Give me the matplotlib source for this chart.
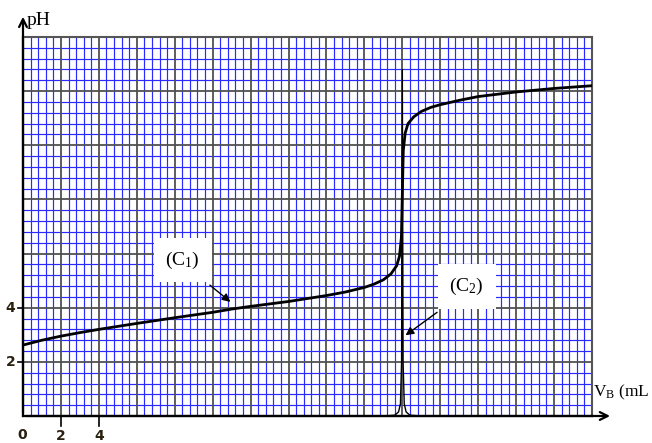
import matplotlib.pyplot as plt
import numpy as np

plt.rcParams['mathtext.fontset'] = 'custom'
plt.rcParams['mathtext.rm'] = 'Liberation Serif'
plt.rcParams['mathtext.default'] = 'rm'

# titration curve C1 : pH = f(VB)
vb_c1 = [0, 1, 2, 3, 4, 6, 8, 10, 11, 12, 14, 16, 17, 18, 18.5, 19, 19.4, 19.7,
         19.85, 19.95, 20.0, 20.05, 20.15, 20.3, 20.6, 21, 21.5, 22, 23, 24, 26, 28, 30]
ph_c1 = [2.62, 2.8, 2.95, 3.08, 3.2, 3.42, 3.63, 3.83, 3.95, 4.05, 4.23, 4.45, 4.58,
         4.75, 4.87, 5.03, 5.25, 5.55, 5.9, 6.6, 8.2, 9.8, 10.45, 10.8, 11.05, 11.25,
         11.4, 11.5, 11.66, 11.8, 11.97, 12.1, 12.2]

# derivative curve C2 : dpH/dVB
vb_c2 = [19.0, 19.6, 19.8, 19.9, 19.96, 20.0, 20.04, 20.1, 20.2, 20.4, 21.0]
d_c2 = [0, 0.03, 0.15, 0.45, 2.0, 12.8, 2.0, 0.45, 0.15, 0.03, 0]

xtick_vals = [2, 4]
ytick_vals = [2, 4]

fig = plt.figure(figsize=(6.52, 4.43), dpi=100)
ax = fig.add_axes([23 / 652, 27 / 443, (592 - 23) / 652, (416 - 37) / 443])
ax.set_xlim(0, 30)
ax.set_ylim(0, 14)
ax.set_xticks([])
ax.set_yticks([])

# millimetre paper grid
for x in np.arange(0, 30.01, 0.4):
    if abs(x / 2 - round(x / 2)) > 1e-6:
        ax.axvline(x, color='#2a2aff', lw=0.85, zorder=1)
for y in np.arange(0, 14.01, 0.4):
    if abs(y / 2 - round(y / 2)) > 1e-6:
        ax.axhline(y, color='#2a2aff', lw=0.85, zorder=1)
for x in np.arange(2, 30.01, 2):
    ax.axvline(x, color='#505050', lw=1.3, zorder=2)
for y in np.arange(2, 14.01, 2):
    ax.axhline(y, color='#505050', lw=1.3, zorder=2)

for s in ['top', 'right']:
    ax.spines[s].set_color('#555555')
    ax.spines[s].set_linewidth(1.5)
ax.spines['left'].set_linewidth(1.6)
ax.spines['bottom'].set_linewidth(1.6)

ax.plot(vb_c1, ph_c1, color='black', lw=2.0, zorder=5)
ax.plot(vb_c2, d_c2, color='black', lw=1.0, zorder=5)

# axis arrows
ax.annotate('', xy=(0, 14.85), xytext=(0, 0), annotation_clip=False,
            arrowprops=dict(arrowstyle='->', lw=1.6, color='black', mutation_scale=14))
ax.annotate('', xy=(31.1, 0), xytext=(0, 0), annotation_clip=False,
            arrowprops=dict(arrowstyle='->', lw=1.6, color='black', mutation_scale=14))

ax.text(0.2, 14.43, 'pH', fontsize=14, family='Liberation Serif', va='baseline')
ax.text(30.05, 0.71, r'V$_{\mathrm{B}}$ (mL', fontsize=12.5, family='Liberation Serif',
        va='baseline', clip_on=False)

# tick marks and labels
for v in xtick_vals:
    ax.plot([v, v], [0, -0.38], color='black', lw=1.2, clip_on=False)
    ax.text(v, -1.0, str(v), ha='center', va='bottom', fontsize=10, fontweight='bold',
            color='#2a2010')
ax.text(-0.05, -0.45, '0', ha='center', va='top', fontsize=10, fontweight='bold',
        color='#2a2010')
for v in ytick_vals:
    ax.plot([0, -0.25], [v, v], color='black', lw=1.2, clip_on=False)
    ax.text(-0.4, v, str(v), ha='right', va='center', fontsize=10, fontweight='bold',
            color='#2a2010')

# curve labels
box = dict(boxstyle='square,pad=0.6', fc='white', ec='none')
ax.text(8.42, 5.76, r'(C$_1$)', fontsize=14, family='Liberation Serif',
        ha='center', va='center', bbox=box, zorder=6)
ax.annotate('', xy=(11.05, 4.15), xytext=(9.74, 4.9),
            arrowprops=dict(arrowstyle='-|>', lw=1.0, color='black', mutation_scale=12), zorder=7)
ax.text(23.4, 4.78, r'(C$_2$)', fontsize=14, family='Liberation Serif',
        ha='center', va='center', bbox=box, zorder=6)
ax.annotate('', xy=(20.05, 2.92), xytext=(21.95, 3.89),
            arrowprops=dict(arrowstyle='-|>', lw=1.0, color='black', mutation_scale=12), zorder=7)

fig.savefig('out.png', dpi=100)
